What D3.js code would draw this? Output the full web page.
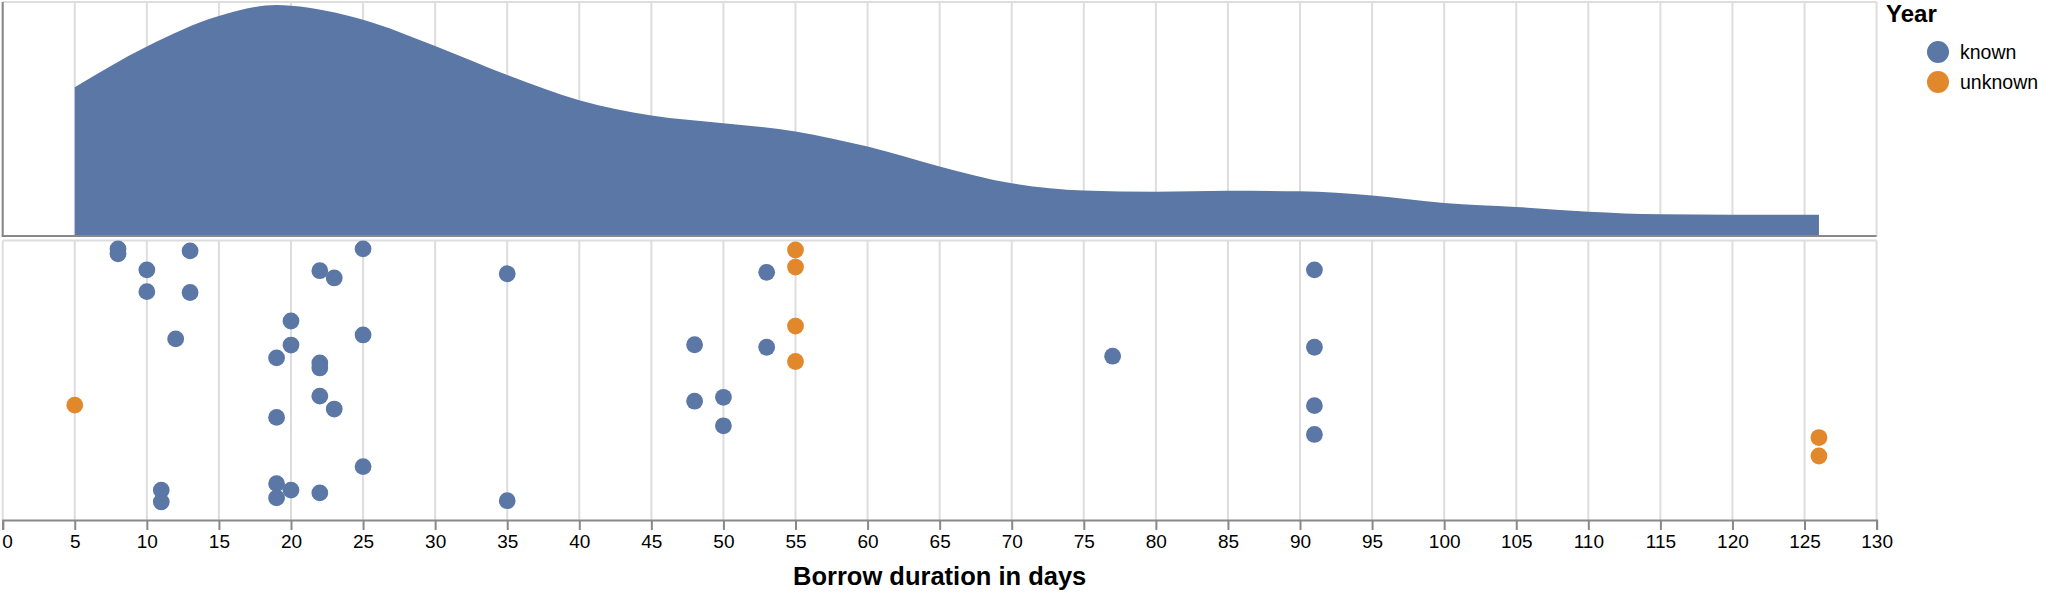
<!DOCTYPE html>
<html>
<head>
<meta charset="utf-8">
<script src="https://cdn.jsdelivr.net/npm/d3@7"></script>
<style>
  html, body { margin: 0; padding: 0; background: #fff; }
  svg { display: block; }
  text { font-family: "Liberation Sans", Arial, Helvetica, sans-serif; }
</style>
</head>
<body>
<svg id="chart" width="2052" height="598"></svg>
<script>
// ---------- data ----------
const xTickValues = [0,5,10,15,20,25,30,35,40,45,50,55,60,65,70,75,80,85,90,95,100,105,110,115,120,125,130];

// density curve (relative density, 1 = top of panel)
const densityDays  = [5, 10, 15, 19, 20, 25, 30, 35, 40, 45, 50, 55, 60, 65, 70, 75, 80, 85, 90, 95, 100, 105, 110, 115, 120, 126];
const densityValue = [0.636, 0.810, 0.940, 0.987, 0.984, 0.924, 0.812, 0.688, 0.580, 0.515, 0.482, 0.447, 0.382, 0.297, 0.225, 0.194, 0.189, 0.193, 0.191, 0.173, 0.141, 0.124, 0.104, 0.093, 0.091, 0.091];

// "known" borrow durations and their jitter (0 = top of strip, 1 = bottom)
const knownDays   = [8, 8, 13, 25, 10, 22, 23, 35, 53, 91, 10, 13, 20, 25, 12, 20, 48, 53, 91, 19, 22, 22, 77, 22, 23, 48, 50, 91, 19, 50, 91, 25, 19, 20, 22, 11, 11, 19, 35];
const knownJitter = [0.030, 0.048, 0.037, 0.030, 0.105, 0.108, 0.134, 0.119, 0.114, 0.105, 0.183, 0.186, 0.288, 0.338, 0.352, 0.374, 0.373, 0.382, 0.382, 0.420, 0.438, 0.456, 0.414, 0.557, 0.603, 0.575, 0.561, 0.591, 0.633, 0.663, 0.694, 0.809, 0.870, 0.893, 0.903, 0.893, 0.935, 0.921, 0.931];

// "unknown" borrow durations and jitter
const unknownDays   = [55, 55, 55, 55, 5, 126, 126];
const unknownJitter = [0.034, 0.095, 0.306, 0.433, 0.589, 0.705, 0.771];

const legendLabels = ["known", "unknown"];
const legendTitle = "Year";
const xTitle = "Borrow duration in days";

// ---------- layout ----------
const W = 2052, H = 598;
const plotLeft = 2.7, plotRight = 1876.6;
const topTop = 2, topBottom = 236;
const botTop = 240.5, botBottom = 520;
const colors = { known: "#5b77a5", unknown: "#e0882b" };

const svg = d3.select("#chart");

const x = d3.scaleLinear().domain([0, 130]).range([plotLeft, plotRight]);
const yDens = d3.scaleLinear().domain([0, 1]).range([topBottom, topTop]);
const yJit = d3.scaleLinear().domain([0, 1]).range([botTop, botBottom]);
const color = d3.scaleOrdinal().domain(legendLabels).range([colors.known, colors.unknown]);

// ---------- top panel ----------
const gTop = svg.append("g");
gTop.append("line").attr("x1", plotLeft).attr("x2", plotRight).attr("y1", topTop).attr("y2", topTop)
  .attr("stroke", "#ddd").attr("stroke-width", 2);
gTop.selectAll("line.grid").data(xTickValues).join("line")
  .attr("class", "grid")
  .attr("x1", d => x(d)).attr("x2", d => x(d))
  .attr("y1", topTop).attr("y2", topBottom)
  .attr("stroke", "#ddd").attr("stroke-width", 2);

const densData = densityDays.map((d, i) => ({ day: d, v: densityValue[i] }));
const area = d3.area()
  .x(d => x(d.day))
  .y0(yDens(0))
  .y1(d => yDens(d.v))
  .curve(d3.curveMonotoneX);
gTop.append("path").datum(densData).attr("d", area).attr("fill", colors.known);

// domain lines
gTop.append("line").attr("x1", plotLeft).attr("x2", plotLeft).attr("y1", topTop).attr("y2", topBottom)
  .attr("stroke", "#888").attr("stroke-width", 2);
gTop.append("line").attr("x1", plotLeft - 1).attr("x2", plotRight).attr("y1", topBottom).attr("y2", topBottom)
  .attr("stroke", "#888").attr("stroke-width", 2);

// ---------- bottom panel ----------
const gBot = svg.append("g");
gBot.append("line").attr("x1", plotLeft).attr("x2", plotRight).attr("y1", botTop).attr("y2", botTop)
  .attr("stroke", "#ddd").attr("stroke-width", 2);
gBot.selectAll("line.grid").data(xTickValues).join("line")
  .attr("class", "grid")
  .attr("x1", d => x(d)).attr("x2", d => x(d))
  .attr("y1", botTop).attr("y2", botBottom)
  .attr("stroke", "#ddd").attr("stroke-width", 2);

const points = knownDays.map((d, i) => ({ day: d, j: knownJitter[i], year: "known" }))
  .concat(unknownDays.map((d, i) => ({ day: d, j: unknownJitter[i], year: "unknown" })));

gBot.selectAll("circle").data(points).join("circle")
  .attr("cx", d => x(d.day))
  .attr("cy", d => yJit(d.j))
  .attr("r", 8.4)
  .attr("fill", d => color(d.year));

// x axis
const xAxis = d3.axisBottom(x).tickValues(xTickValues).tickSize(10).tickPadding(5).tickFormat(d3.format("d"));
const gAx = svg.append("g").attr("transform", `translate(0,${botBottom})`).call(xAxis);
gAx.select(".domain").attr("stroke", "#888").attr("stroke-width", 2);
gAx.selectAll(".tick line").attr("stroke", "#888").attr("stroke-width", 2);
gAx.selectAll(".tick text").attr("fill", "#000").style("font-size", "19px")
  .style("font-family", "'Liberation Sans', Arial, sans-serif");
// first label flush with the start of the range
gAx.selectAll(".tick text").filter(d => d === xTickValues[0])
  .attr("text-anchor", "start").attr("x", -1);

svg.append("text")
  .attr("x", (plotLeft + plotRight) / 2)
  .attr("y", 585)
  .attr("text-anchor", "middle")
  .style("font-size", "25.5px").style("font-weight", "bold")
  .attr("fill", "#000")
  .text(xTitle);

// ---------- legend ----------
const gLeg = svg.append("g");
gLeg.append("text").attr("x", 1886).attr("y", 22)
  .style("font-size", "24px").style("font-weight", "bold").attr("fill", "#000").text(legendTitle);
legendLabels.forEach((lab, i) => {
  const cy = 52 + i * 30;
  gLeg.append("circle").attr("cx", 1938).attr("cy", cy).attr("r", 11).attr("fill", color(lab));
  gLeg.append("text").attr("x", 1960).attr("y", cy).attr("dy", "0.35em")
    .style("font-size", "19.5px").attr("fill", "#000").text(lab);
});
</script>
</body>
</html>
